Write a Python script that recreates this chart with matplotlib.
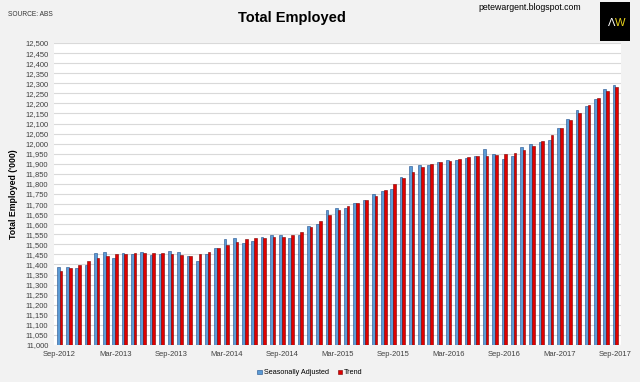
import numpy as np
import matplotlib.pyplot as plt
from matplotlib.patches import Rectangle

# monthly, Sep-2012 .. Sep-2017
months = ["Sep", "Oct", "Nov", "Dec", "Jan", "Feb", "Mar", "Apr", "May", "Jun", "Jul", "Aug"]
start_year = 2012
n_months = 61

seasonally_adjusted = [
    11386, 11386, 11381, 11397, 11455, 11464, 11430, 11459, 11450, 11460,
    11445, 11450, 11465, 11464, 11444, 11417, 11454, 11480, 11525, 11530,
    11505, 11518, 11538, 11545, 11545, 11530, 11545, 11593, 11599, 11669,
    11682, 11679, 11707, 11719, 11752, 11765, 11773, 11836, 11889, 11896,
    11892, 11907, 11917, 11919, 11927, 11939, 11972, 11947, 11922, 11940,
    11985, 12000, 12007, 12020, 12076, 12124, 12166, 12189, 12220, 12273,
    12291,
]
trend = [
    11369, 11382, 11399, 11416, 11430, 11440, 11452, 11452, 11455, 11455,
    11455, 11455, 11450, 11447, 11444, 11450, 11462, 11480, 11497, 11512,
    11525, 11530, 11530, 11535, 11536, 11548, 11563, 11584, 11614, 11644,
    11669, 11689, 11705, 11722, 11742, 11768, 11801, 11831, 11861, 11884,
    11899, 11907, 11914, 11925, 11932, 11937, 11940, 11942, 11947, 11954,
    11967, 11987, 12012, 12041, 12076, 12116, 12154, 12192, 12227, 12260,
    12281,
]

labels = []
for i in range(n_months):
    m = months[i % 12]
    yr = start_year + (i + 8) // 12
    labels.append('{}-{}'.format(m, yr))

plt.rcParams["font.family"] = ["Liberation Sans", "DejaVu Sans"]

bg = '#f2f2f2'
fig = plt.figure(figsize=(6.4, 3.82), dpi=100, facecolor=bg)
ax = fig.add_axes([54/640, 1 - 345/382, (621-54)/640, (345-43)/382])
ax.set_facecolor('white')

x = np.arange(n_months)
w = 0.29
b1 = ax.bar(x - w/2, seasonally_adjusted, w, color='#5b9bd5', edgecolor='#1f4e8c',
            linewidth=0.4, label='Seasonally Adjusted', zorder=3)
b2 = ax.bar(x + w/2, trend, w, color='#e00000', edgecolor='#7a0000',
            linewidth=0.4, label='Trend', zorder=3)

ax.set_xlim(-0.6, 60.6)
ax.set_ylim(11000, 12500)
yt = np.arange(11000, 12501, 50)
ax.set_yticks(yt)
ax.set_yticklabels(['{:,}'.format(v) for v in yt], fontsize=5.5, color='#404040')
ax.set_xticks(x[::6])
ax.set_xticklabels(labels[::6], fontsize=5.5, color='#404040')
ax.tick_params(length=0, pad=4)
ax.yaxis.grid(True, color='#d9d9d9', linewidth=0.8, zorder=0)
for s in ax.spines.values():
    s.set_visible(False)

# y label
fig.text(14/640, 1 - 194/382, "Total Employed ('000)", fontsize=6.3, fontweight='bold',
         rotation=90, ha='center', va='center')

# titles etc
fig.text(292/640, 1 - 18/382, 'Total Employed', fontsize=10.5, fontweight='bold',
         ha='center', va='center')
fig.text(8/640, 1 - 15/382, 'SOURCE: ABS', fontsize=4.8, color='#333333', va='center')
fig.text(530/640, 1 - 8/382, 'petewargent.blogspot.com', fontsize=6.3, ha='center',
         va='center')

# logo
fig.patches.append(Rectangle((600/640, 1 - 41/382), 30/640, 39/382,
                             transform=fig.transFigure, facecolor='black', zorder=5))
fig.text(612/640, 1 - 23/382, 'Λ', color='white', fontsize=8, ha='center', va='center', zorder=6)
fig.text(620/640, 1 - 23/382, 'W', color='#e8d21c', fontsize=8, ha='center', va='center', zorder=6)

fig.legend(handles=[b1, b2], loc='center', bbox_to_anchor=(310/640, 1 - 373/382), ncol=2,
           frameon=False, fontsize=5.2, handlelength=0.6, handleheight=0.6,
           handletextpad=0.3, columnspacing=1.2)

fig.savefig('out.png', dpi=100, facecolor=bg)
